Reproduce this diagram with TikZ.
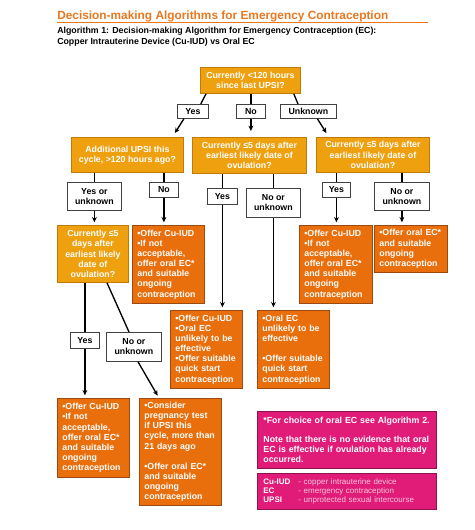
\documentclass[tikz,border=0pt]{standalone}
\usepackage{fontspec}
\setmainfont{Liberation Sans}
\usetikzlibrary{arrows.meta,positioning,calc}

\definecolor{ambfill}{HTML}{EFA00F}
\definecolor{ambline}{HTML}{C07A08}
\definecolor{offfill}{HTML}{E96F0C}
\definecolor{offline}{HTML}{9C4A12}
\definecolor{pinkfill}{HTML}{E01B78}
\definecolor{pinkline}{HTML}{8E1150}
\definecolor{termpink}{HTML}{F9C6DD}
\definecolor{titleorange}{HTML}{E8771E}

\begin{document}
\begin{tikzpicture}[
      x=0.75pt, y=-0.75pt,
      every node/.style={font=\bfseries\fontsize{6.6}{7.6}\selectfont, inner sep=0pt, execute at begin node={\hyphenpenalty10000\exhyphenpenalty10000\relax}},
      wh/.style 2 args={minimum width=#1*0.75pt, minimum height=#2*0.75pt},
      decision/.style={draw=ambline, fill=ambfill, text=white, line width=0.6pt, align=center, anchor=north west},
      action/.style={draw=offline, fill=offfill, text=white, line width=0.6pt, align=left, anchor=north west, inner xsep=3.75pt, text width=#1},
      choice/.style={draw=black!75, fill=white, text=black, line width=0.6pt, align=center, anchor=north west},
      remark/.style={draw=pinkline, fill=pinkfill, text=white, line width=0.6pt, align=left, anchor=north west, inner xsep=4.5pt, text width=125.25pt},
      link/.style={line width=1pt},
      arrow/.style={-{Stealth[length=4pt,width=3.6pt]}, line width=1pt, shorten >=2pt}
    ]
      \useasboundingbox (0,0) rectangle (474,530);

      % heading
      \node[anchor=base west, text=titleorange, font=\bfseries\fontsize{8.9}{10}\selectfont] (title) at (57,20) {Decision-making Algorithms for Emergency Contraception};
      \draw[titleorange, line width=0.8pt] ([yshift=-1.9pt]title.base west) -- ++(371,0);
      \node[anchor=base west] (algo) at (57,34) {Algorithm 1: Decision-making Algorithm for Emergency Contraception (EC):};
      \node[anchor=base west] (versus) at (57,44.5) {Copper Intrauterine Device (Cu-IUD) vs Oral EC};

      % first question
      \node[decision, wh={100}{26}] (upsi) at (200,67) {Currently <120 hours\\since last UPSI?};
      \node[choice, wh={31}{14}] (yesA) at (177,104) {Yes};
      \node[choice, wh={29}{14}] (noA) at (236,104) {No};
      \node[choice, wh={56}{14}] (unknownA) at (280,104) {Unknown};

      % second row of questions
      \node[decision, wh={112}{35}] (extra) at (71,137) {Additional UPSI this\\cycle, >120 hours ago?};
      \node[decision, wh={114}{36}] (ovmid) at (192,137) {Currently ≤5 days after\\earliest likely date of\\ovulation?};
      \node[decision, wh={113}{35}] (ovright) at (316,137) {Currently ≤5 days after\\earliest likely date of\\ovulation?};

      \node[choice, wh={54}{28}] (yesunkB) at (67,182) {Yes or\\unknown};
      \node[choice, wh={29}{15}] (noB) at (149,182) {No};
      \node[choice, wh={30}{16}] (yesC) at (207,188) {Yes};
      \node[choice, wh={54}{29}] (nounkC) at (246,188) {No or\\unknown};
      \node[choice, wh={28}{15}] (yesD) at (322,182) {Yes};
      \node[choice, wh={55}{28}] (nounkD) at (374,182) {No or\\unknown};

      % outcomes and last question
      \node[decision, wh={71}{57}] (ovleft) at (57,225) {Currently ≤5\\days after\\earliest likely\\date of\\ovulation?};
      \node[action=46.5pt, wh={72}{78}] (iudA) at (132,225) {•Offer Cu-IUD\\•If not\\acceptable,\\offer oral EC*\\and suitable\\ongoing\\contraception};
      \node[action=47.25pt, wh={73}{78}] (iudB) at (299,225) {•Offer Cu-IUD\\•If not\\acceptable,\\offer oral EC*\\and suitable\\ongoing\\contraception};
      \node[action=47.25pt, wh={73}{47}] (oralC) at (374,225) {•Offer oral EC*\\and suitable\\ongoing\\contraception};
      \node[action=46.5pt, wh={72}{78}] (iudD) at (170,310) {•Offer Cu-IUD\\•Oral EC\\unlikely to be\\effective\\•Offer suitable\\quick start\\contraception};
      \node[action=46.5pt, wh={72}{78}] (oralE) at (257,310) {•Oral EC\\unlikely to be\\effective\\[7.6pt]•Offer suitable\\quick start\\contraception};

      \node[choice, wh={29}{16}] (yesE) at (70,332) {Yes};
      \node[choice, wh={55}{29}] (nounkE) at (106,332) {No or\\unknown};

      \node[action=46.5pt, wh={72}{79}] (iudF) at (57,398) {•Offer Cu-IUD\\•If not\\acceptable,\\offer oral EC*\\and suitable\\ongoing\\contraception};
      \node[action=54pt, wh={82}{107}] (pregG) at (139,398) {•Consider\\pregnancy test\\if UPSI this\\cycle, more than\\21 days ago\\[7.6pt]•Offer oral EC*\\and suitable\\ongoing\\contraception};

      % notes
      \node[remark, wh={179}{57}] (caveat) at (257,411) {*For choice of oral EC see Algorithm 2.\\[6.4pt]Note that there is no evidence that oral\\EC is effective if ovulation has already\\occurred.};
      \node[remark, wh={179}{36}, font=\fontsize{6}{6.75}\selectfont] (terms) at (257,473) {\makebox[26.25pt][l]{\bfseries Cu-IUD}{\color{termpink}- copper intrauterine device}\\\makebox[26.25pt][l]{\bfseries EC}{\color{termpink}- emergency contraception}\\\makebox[26.25pt][l]{\bfseries UPSI}{\color{termpink}- unprotected sexual intercourse}};

      % connectors
      \draw[link] ($(upsi.south west)+(6,0)$) -- ($(yesA.north east)+(-8,0)$);
      \draw[arrow, shorten >=3.5pt] ($(yesA.south)+(-9,0)$) -- ($(extra.north)+(45,0)$);
      \draw[link] (noA.north |- upsi.south) -- (noA.north);
      \draw[arrow, shorten >=4.5pt] (noA.south) -- (noA.south |- ovmid.north);
      \draw[link] ($(upsi.south east)+(-7,0)$) -- ($(unknownA.north west)+(18,0)$);
      \draw[arrow, shorten >=3.5pt] ($(unknownA.south)+(9,0)$) -- ($(ovright.north)+(-44,0)$);

      \draw[link] (yesunkB.north |- extra.south) -- (yesunkB.north);
      \draw[arrow] (yesunkB.south) -- (yesunkB.south |- ovleft.north);
      \draw[link] (noB.north |- extra.south) -- (noB.north);
      \draw[arrow] (noB.south) -- (noB.south |- iudA.north);
      \draw[link] (yesC.north |- ovmid.south) -- (yesC.north);
      \draw[arrow] (yesC.south) -- (yesC.south |- iudD.north);
      \draw[link] (nounkC.north |- ovmid.south) -- (nounkC.north);
      \draw[arrow] (nounkC.south) -- (nounkC.south |- oralE.north);
      \draw[link] (yesD.north |- ovright.south) -- (yesD.north);
      \draw[arrow] (yesD.south) -- (yesD.south |- iudB.north);
      \draw[link] (nounkD.north |- ovright.south) -- (nounkD.north);
      \draw[arrow] (nounkD.south) -- (nounkD.south |- oralC.north);

      \draw[link] (yesE.north |- ovleft.south) -- (yesE.north);
      \draw[arrow] (yesE.south) -- (yesE.south |- iudF.north);
      \draw[link] ($(ovleft.south west)+(50,0)$) -- ($(nounkE.north west)+(23,0)$);
      \draw[arrow] ($(nounkE.south west)+(32,0)$) -- ($(pregG.north west)+(20,0)$);
    \end{tikzpicture}
\end{document}
